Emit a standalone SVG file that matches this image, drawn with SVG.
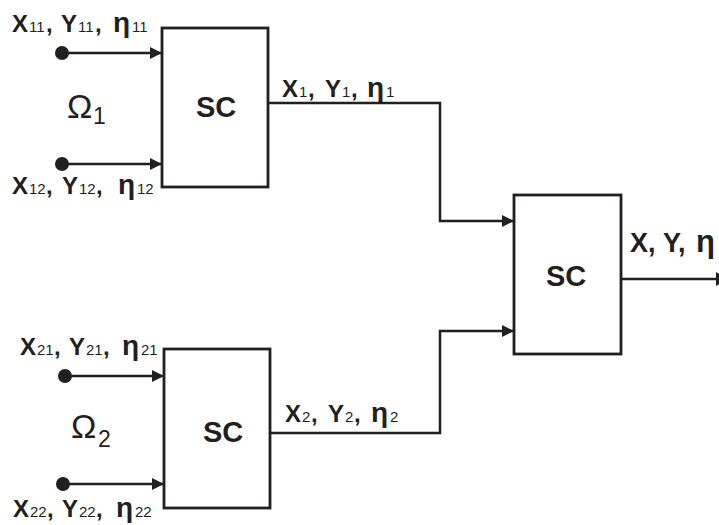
<svg xmlns="http://www.w3.org/2000/svg" width="719" height="525" viewBox="0 0 719 525">
<defs>
<style>
text{font-family:"Liberation Sans",Arial,sans-serif;fill:#231f20}
.m{font-weight:bold;font-size:24px}
.s{font-weight:normal;font-size:15px}
.e{font-weight:bold;font-size:28px}
.sc{font-weight:bold;font-size:29px}
.om{font-size:34px}
.os{font-size:23px}
.big{font-weight:bold;font-size:27px}
.bige{font-weight:bold;font-size:31px}
.box{fill:#fff;stroke:#231f20;stroke-width:2.8}
.ln{fill:none;stroke:#231f20;stroke-width:2.5}
.dot{fill:#231f20}
</style>
<marker id="ah" viewBox="0 0 12 12" refX="12" refY="6" markerWidth="12" markerHeight="12" markerUnits="userSpaceOnUse" orient="auto">
<path d="M0,0 L12,6 L0,12 z" fill="#231f20"/>
</marker>
</defs>

<g id="connectors">
<line class="ln" x1="62" y1="53" x2="162" y2="53" marker-end="url(#ah)"/>
<line class="ln" x1="62" y1="164" x2="162" y2="164" marker-end="url(#ah)"/>
<line class="ln" x1="65" y1="376" x2="164" y2="376" marker-end="url(#ah)"/>
<line class="ln" x1="63" y1="484" x2="164" y2="484" marker-end="url(#ah)"/>
<polyline class="ln" points="268,103 440,103 440,221 514,221" marker-end="url(#ah)"/>
<polyline class="ln" points="270,433 440,433 440,331 514,331" marker-end="url(#ah)"/>
<line class="ln" x1="621" y1="279" x2="719" y2="279"/>
<path d="M716,272 L728,279 L716,286 z" fill="#231f20"/>
<circle class="dot" cx="62" cy="53" r="7"/>
<circle class="dot" cx="62" cy="164" r="7"/>
<circle class="dot" cx="65" cy="376" r="7"/>
<circle class="dot" cx="63" cy="484" r="7"/>
</g>

<g id="sc1">
<rect class="box" x="162" y="28" width="106" height="159"/>
<text class="sc" x="196" y="117">SC</text>
</g>
<g id="sc2">
<rect class="box" x="164" y="349" width="106" height="159"/>
<text class="sc" x="203" y="442">SC</text>
</g>
<g id="sc3">
<rect class="box" x="514" y="195" width="107" height="159"/>
<text class="sc" x="546" y="286">SC</text>
</g>

<g id="omega1">
<text class="om" x="67" y="118">Ω</text>
<text class="os" x="93" y="124">1</text>
</g>
<g id="omega2">
<text class="om" x="71" y="438">Ω</text>
<text class="os" x="98" y="447">2</text>
</g>

<g id="in11">
<text y="32"><tspan class="m" x="12">X</tspan><tspan class="s" x="29">11</tspan><tspan class="m" x="46">,</tspan><tspan class="m" x="61">Y</tspan><tspan class="s" x="78">11</tspan><tspan class="m" x="95">,</tspan><tspan class="e" x="113">η</tspan><tspan class="s" x="132">11</tspan></text>
</g>
<g id="in12">
<text y="194"><tspan class="m" x="12">X</tspan><tspan class="s" x="29">12</tspan><tspan class="m" x="46">,</tspan><tspan class="m" x="62">Y</tspan><tspan class="s" x="79">12</tspan><tspan class="m" x="96">,</tspan><tspan class="e" x="118">η</tspan><tspan class="s" x="137">12</tspan></text>
</g>
<g id="in21">
<text y="355"><tspan class="m" x="20">X</tspan><tspan class="s" x="37">21</tspan><tspan class="m" x="54">,</tspan><tspan class="m" x="69">Y</tspan><tspan class="s" x="86">21</tspan><tspan class="m" x="103">,</tspan><tspan class="e" x="122">η</tspan><tspan class="s" x="141">21</tspan></text>
</g>
<g id="in22">
<text y="517"><tspan class="m" x="13">X</tspan><tspan class="s" x="30">22</tspan><tspan class="m" x="47">,</tspan><tspan class="m" x="62">Y</tspan><tspan class="s" x="79">22</tspan><tspan class="m" x="96">,</tspan><tspan class="e" x="116">η</tspan><tspan class="s" x="135">22</tspan></text>
</g>
<g id="out1">
<text y="97"><tspan class="m" x="282">X</tspan><tspan class="s" x="299">1</tspan><tspan class="m" x="308">,</tspan><tspan class="m" x="325">Y</tspan><tspan class="s" x="342">1</tspan><tspan class="m" x="351">,</tspan><tspan class="e" x="367">η</tspan><tspan class="s" x="386">1</tspan></text>
</g>
<g id="out2">
<text y="422"><tspan class="m" x="285">X</tspan><tspan class="s" x="302">2</tspan><tspan class="m" x="311">,</tspan><tspan class="m" x="328">Y</tspan><tspan class="s" x="345">2</tspan><tspan class="m" x="354">,</tspan><tspan class="e" x="371">η</tspan><tspan class="s" x="390">2</tspan></text>
</g>
<g id="out">
<text y="252"><tspan class="big" x="630">X,</tspan><tspan class="big" x="663">Y,</tspan><tspan class="bige" x="696">η</tspan></text>
</g>
</svg>
